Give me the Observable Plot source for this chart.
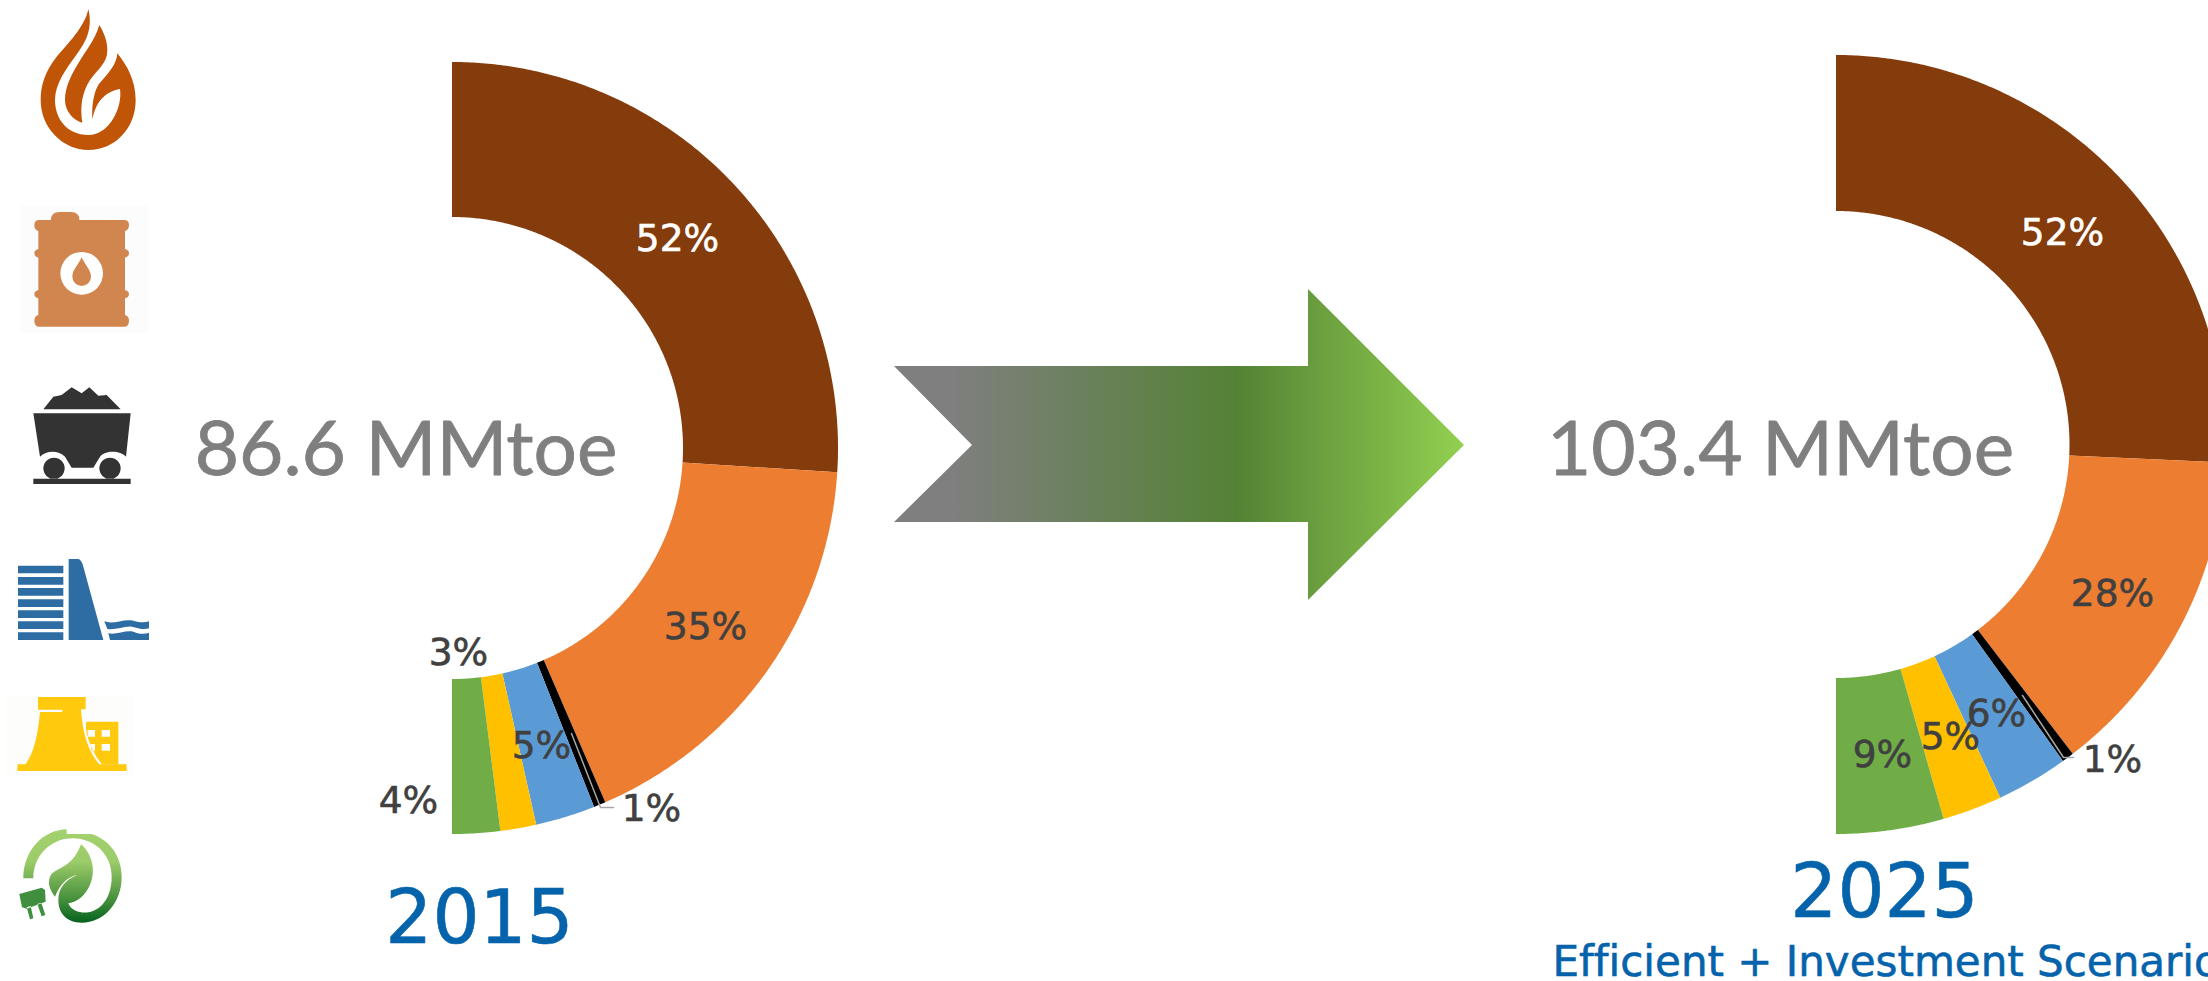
<!DOCTYPE html>
<html>
<head>
<meta charset="utf-8">
<script src="https://cdn.jsdelivr.net/npm/d3@7"></script>
<script src="https://cdn.jsdelivr.net/npm/@observablehq/plot@0.6"></script>
<style>
  html, body { margin: 0; padding: 0; background: #fff; overflow: hidden; }
  text { font-variant-ligatures: none; }
</style>
</head>
<body>
<div id="chart"></div>
<script>
// Primary energy mix shares, in percent, clockwise from the top of each half ring
const sources = ["Natural gas", "Oil", "Coal", "Hydro", "Nuclear", "Renewables"];
const shares2015 = [52, 35, 1, 5, 3, 4];
const shares2025 = [52, 28, 1, 6, 5, 9];
const sourceColors = ["#843c0c", "#ed7d31", "#000000", "#5b9bd5", "#ffc000", "#70ad47"];
const totals = ["86.6 MMtoe", "103.4 MMtoe"];
const years = ["2015", "2025"];
const scenario = "Efficient + Investment Scenario";

// Ring geometry for each year, in page pixels
const rings = [
  {cx: 452, cy: 448, r0: 231, r1: 386},
  {cx: 1836, cy: 444.5, r0: 233.5, r1: 389.5}
];

// Turns a list of shares into polyline-sampled ring segments over the half circle
function ringSegments(shares, ring, year) {
  const total = d3.sum(shares);
  const angle = d3.scaleLinear().domain([0, total]).range([0, Math.PI]);
  const rows = [];
  let start = 0;
  shares.forEach((share, i) => {
    const end = start + share;
    const steps = Math.max(2, Math.ceil(share * 4));
    for (let k = 0; k <= steps; k++) {
      const a = angle(start + (end - start) * k / steps);
      rows.push({
        key: `${year}-${sources[i]}`,
        source: sources[i],
        x1: ring.cx + ring.r0 * Math.sin(a),
        y1: ring.cy - ring.r0 * Math.cos(a),
        x2: ring.cx + ring.r1 * Math.sin(a),
        y2: ring.cy - ring.r1 * Math.cos(a)
      });
    }
    start = end;
  });
  return rows;
}

const segments = [
  ...ringSegments(shares2015, rings[0], years[0]),
  ...ringSegments(shares2025, rings[1], years[1])
];

// Where each share label sits, and its colour
const labelSpots2015 = [[677, 238, "#fff"], [705, 626, "#404040"], [651, 808, "#404040"], [541, 745, "#404040"], [458, 652, "#404040"], [408, 800, "#404040"]];
const labelSpots2025 = [[2062, 232, "#fff"], [2112, 593, "#404040"], [2112, 759, "#404040"], [1996, 713, "#404040"], [1950, 736, "#404040"], [1882, 754, "#404040"]];
const shareLabels = [
  ...shares2015.map((v, i) => ({text: `${v}%`, x: labelSpots2015[i][0], y: labelSpots2015[i][1], fill: labelSpots2015[i][2]})),
  ...shares2025.map((v, i) => ({text: `${v}%`, x: labelSpots2025[i][0], y: labelSpots2025[i][1], fill: labelSpots2025[i][2]}))
];

// Thin leader lines running from the 1% labels to their slivers
const leaders = [
  {key: "a", x: 571, y: 733}, {key: "a", x: 600, y: 807}, {key: "a", x: 613, y: 807},
  {key: "b", x: 2022, y: 695}, {key: "b", x: 2063, y: 757}, {key: "b", x: 2073, y: 757}
];

// Draws a group of filled shapes from SVG path strings at a given place and scale
function pictogram(x, y, scale, shapes) {
  return () => {
    const g = d3.create("svg:g").attr("transform", `translate(${x},${y}) scale(${scale})`);
    for (const s of shapes) {
      g.append("path").attr("d", s.d).attr("fill", s.fill).attr("fill-rule", "evenodd");
    }
    return g.node();
  };
}

// Pictogram outlines, in a drawing space three times the page size
const flame = [{fill: "#c05508", d:
  "M265 27 C255 80 200 135 170 170 C135 215 122 255 122 300 C122 385 190 450 265 450 C345 450 407 385 407 300 C407 240 380 195 352 160 C350 200 310 235 295 255 C280 280 275 320 277 358 C285 320 300 295 325 280 C340 272 350 268 360 267 C368 320 330 405 265 405 C200 405 165 355 165 300 C165 250 200 205 225 170 C255 130 280 90 265 27 Z " +
  "M298 75 C285 120 255 155 235 190 C210 230 195 265 195 300 C195 335 220 360 247 368 C240 320 245 280 270 240 C295 205 322 190 322 150 C322 120 310 95 298 75 Z"}];

const barrel = [
  {fill: "#fdfcfc", d: "M60 617 H445 V1000 H60 Z"},
  {fill: "#d2864f", d:
    "M153 660 Q153 636 178 636 H213 Q238 636 238 660 H372 Q387 660 387 675 Q387 690 375 693 V747 Q387 750 387 760 Q387 770 375 773 V870 Q387 873 387 882 Q387 892 375 895 V945 Q387 948 387 962 Q387 980 372 980 H118 Q103 980 103 962 Q103 948 115 945 V895 Q103 892 103 882 Q103 873 115 870 V773 Q103 770 103 760 Q103 750 115 747 V693 Q103 690 103 675 Q103 660 118 660 Z"},
  {fill: "#fff", d: "M245 756 A64 64 0 1 0 245 884 A64 64 0 1 0 245 756 Z"},
  {fill: "#d2864f", d: "M245 772 C235 795 217 810 217 830 A28 28 0 0 0 273 830 C273 810 255 795 245 772 Z"}
];

const coalCart = [{fill: "#333333", d:
  "M130 1228 L160 1190 L185 1185 L215 1162 L245 1180 L268 1162 L295 1187 L320 1185 L362 1228 Z " +
  "M100 1240 H392 L378 1370 C360 1350 315 1350 300 1370 L280 1403 H215 L195 1370 C175 1350 140 1350 120 1370 Z " +
  "M162 1373 A32 32 0 1 0 162 1437 A32 32 0 1 0 162 1373 Z " +
  "M330 1373 A32 32 0 1 0 330 1437 A32 32 0 1 0 330 1373 Z " +
  "M100 1436 H392 V1452 H100 Z"}];

const damBarTops = [197, 231, 264, 298, 331, 364, 397];
const dam = [{fill: "#2e6ca4", d:
  damBarTops.map(y => `M54 ${y} H190 V${y + 23} H54 Z`).join(" ") +
  " M206 177 H235 Q245 180 250 200 L310 420 H206 Z" +
  " M313 364 C340 375 370 355 400 362 C420 368 435 368 447 364 V385 C430 390 415 385 395 380 C370 378 345 392 322 387 Z" +
  " M325 400 C350 405 375 390 400 395 C420 403 435 403 447 398 V420 H330 Z"}];

const plant = [
  {fill: "#fdfdfc", d: "M18 588 H402 V828 H18 Z"},
  {fill: "#ffc90e", d:
    "M114 591 H257 V628 H243 Q250 740 298 793 H380 V813 H52 V793 H76 Q110 750 120 636 H187 V629 H114 Z " },
  {fill: "#ffc90e", d:
    "M258 665 H355 V793 H306 Q272 755 258 690 Z M305 690 H330 V710 H305 Z M305 732 H330 V752 H305 Z M262 690 H285 V710 H265 Z M272 732 H285 V752 H275 Z"}
];

const plug = [
  {fill: "url(#leafGradient)", d:
    "M100 1135 H70 C70 1050 130 990 200 988 V1002 H275 C330 1020 365 1070 365 1130 C365 1210 310 1268 245 1268 C200 1268 175 1240 175 1200 C175 1165 195 1140 232 1125 C205 1130 180 1150 165 1190 C150 1170 142 1150 150 1130 C165 1100 215 1110 243 1033 C280 1065 290 1120 265 1165 C248 1195 225 1208 205 1210 C215 1235 245 1240 265 1237 C310 1228 335 1185 335 1130 C335 1065 285 1015 218 1015 C150 1015 100 1070 100 1135 Z"},
  {fill: "#3f8f3f", d:
    "M58 1182 L125 1163 L135 1170 L137 1205 L80 1226 L66 1222 Z M80 1222 L92 1218 L100 1255 L90 1258 Z M112 1212 L124 1208 L136 1245 L125 1249 Z"}
];

const labelWeight = 0.6;

const chart = Plot.plot({
  width: 2208,
  height: 981,
  margin: 0,
  x: {domain: [0, 2208], range: [0, 2208], axis: null},
  y: {domain: [0, 981], range: [0, 981], axis: null},
  style: {background: "#fff", fontFamily: "'DejaVu Sans', sans-serif"},
  marks: [
    // Ring slices, one area per source and year
    Plot.area(segments, {
      x1: "x1", y1: "y1", x2: "x2", y2: "y2", z: "key",
      fill: d => sourceColors[sources.indexOf(d.source)],
      curve: "linear"
    }),
    Plot.line(leaders, {x: "x", y: "y", z: "key", stroke: "#a6a6a6", strokeWidth: 1.5}),
    Plot.text(shareLabels, {x: "x", y: "y", text: "text", fill: "fill", stroke: "fill", strokeWidth: labelWeight, fontSize: 37.5, textAnchor: "middle", lineAnchor: "middle"}),
    // Totals in the hollow of each ring
    Plot.text([totals[0]], {x: [405.5], y: [450], text: d => d, fill: "#7f7f7f", stroke: "#7f7f7f", strokeWidth: 0.8, fontSize: 76.5, fontFamily: "Lato, sans-serif", textAnchor: "middle", lineAnchor: "middle"}),
    Plot.text([totals[1]], {x: [1780], y: [450], text: d => d, fill: "#7f7f7f", stroke: "#7f7f7f", strokeWidth: 0.8, fontSize: 76.5, fontFamily: "Lato, sans-serif", textAnchor: "middle", lineAnchor: "middle"}),
    // Year captions
    Plot.text([years[0]], {x: [479], y: [919], text: d => d, fill: "#0563ab", stroke: "#0563ab", strokeWidth: labelWeight, fontSize: 74, textAnchor: "middle", lineAnchor: "middle"}),
    Plot.text([years[1]], {x: [1884], y: [893], text: d => d, fill: "#0563ab", stroke: "#0563ab", strokeWidth: labelWeight, fontSize: 74, textAnchor: "middle", lineAnchor: "middle"}),
    Plot.text([scenario], {x: [1552], y: [962], text: d => d, fill: "#0563ab", stroke: "#0563ab", strokeWidth: labelWeight, fontSize: 42, textAnchor: "start", lineAnchor: "middle"}),
    // Block arrow between the two years, plus the shared gradients
    () => {
      const g = d3.create("svg:g");
      const grad = g.append("defs").append("linearGradient").attr("id", "arrowGradient");
      grad.append("stop").attr("offset", "0").attr("stop-color", "#7f7f7f");
      grad.append("stop").attr("offset", "0.1").attr("stop-color", "#7f7f7f");
      grad.append("stop").attr("offset", "0.6").attr("stop-color", "#548235");
      grad.append("stop").attr("offset", "1").attr("stop-color", "#92d050");
      g.append("path")
        .attr("d", "M894 366 H1308 V289 L1464 445 L1308 600 V522 H894 L972 445 Z")
        .attr("fill", "url(#arrowGradient)");
      const leaf = g.append("defs").append("linearGradient").attr("id", "leafGradient")
        .attr("gradientUnits", "userSpaceOnUse")
        .attr("x1", 0).attr("x2", 0).attr("y1", 988).attr("y2", 1268);
      leaf.append("stop").attr("offset", "0").attr("stop-color", "#a3d16e");
      leaf.append("stop").attr("offset", "0.35").attr("stop-color", "#9ccb69");
      leaf.append("stop").attr("offset", "0.75").attr("stop-color", "#46903c");
      leaf.append("stop").attr("offset", "1").attr("stop-color", "#05621f");
      return g.node();
    },
    // Source pictograms down the left edge
    pictogram(0, 0, 1 / 3, flame),
    pictogram(0, 0, 1 / 3, barrel),
    pictogram(0, 0, 1 / 3, coalCart),
    pictogram(0, 500, 1 / 3, dam),
    pictogram(0, 500, 1 / 3, plant),
    pictogram(0, 500, 1 / 3, plug)
  ]
});
document.getElementById("chart").append(chart);
</script>
</body>
</html>
